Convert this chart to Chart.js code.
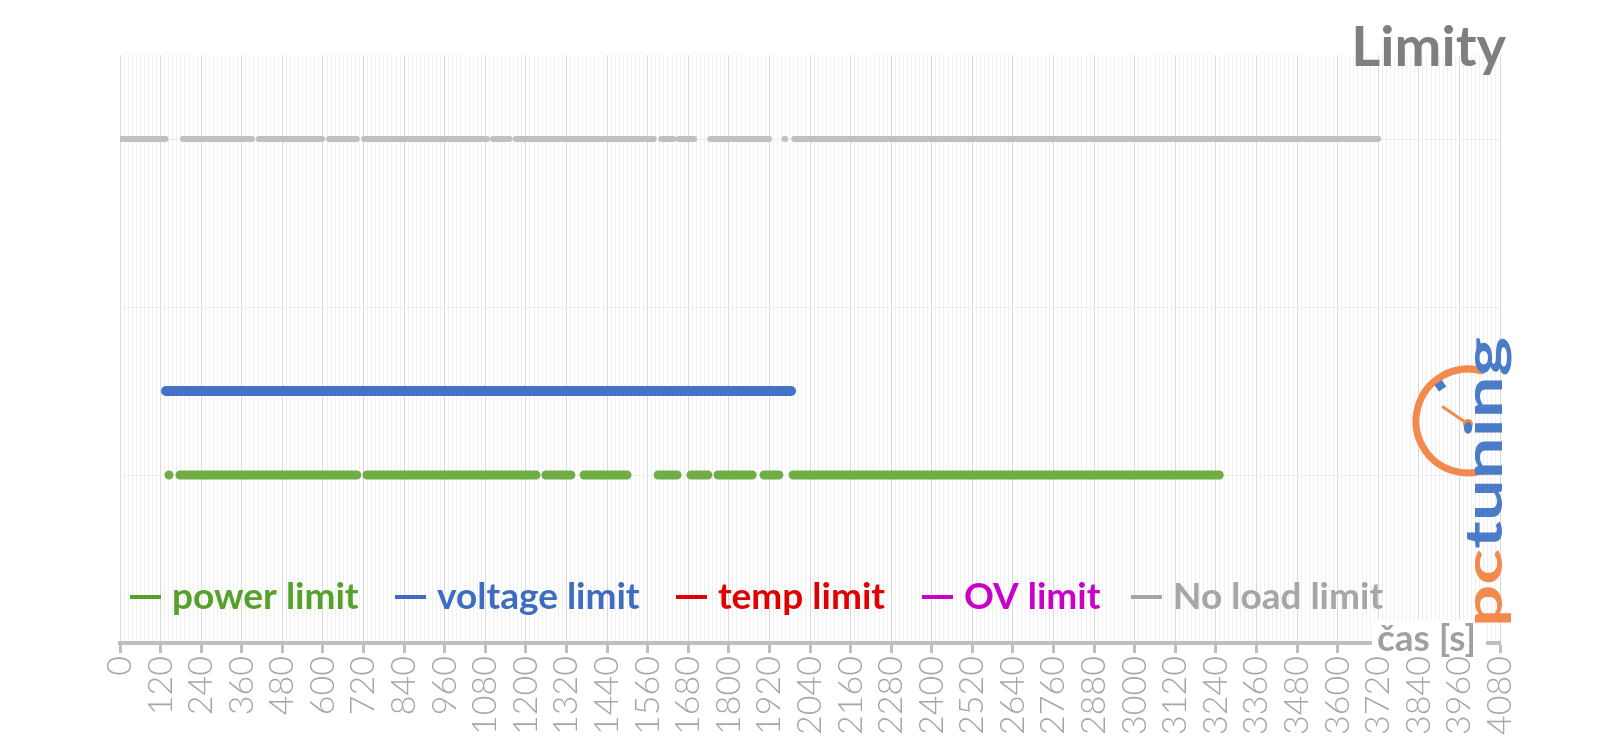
<!DOCTYPE html>
<html>
<head>
<meta charset="utf-8">
<script src="https://cdn.jsdelivr.net/npm/chart.js@4.4.1/dist/chart.umd.min.js"></script>
<style>
    html, body { margin: 0; padding: 0; background: #fff; }
</style>
</head>
<body>
<canvas id="limityChart" width="1600" height="738"></canvas>
<script>
"use strict";

// --- data: time runs [start s, end s] where each limit was active ---
const seriesNames  = ["power limit", "voltage limit", "temp limit", "OV limit", "No load limit"];
const seriesLevels = [1, 1.5, 2, 2.5, 3];

const powerRuns = [
    [145, 147], [177, 700], [730, 1230], [1259, 1333], [1372, 1499],
    [1591, 1647], [1688, 1738], [1768, 1869], [1904, 1948], [1990, 3250]
];
const voltageRuns = [[136, 1984]];
const tempRuns    = [];
const ovRuns      = [];
const noLoadRuns  = [
    [0, 135], [186, 390], [410, 598], [618, 700], [722, 1085], [1103, 1152],
    [1170, 1578], [1600, 1636], [1652, 1698], [1745, 1919],
    [1965, 1967], [1993, 3720]
];

const xMin = 0, xMax = 4080, xMajor = 120, xMinor = 12;

const lineColors   = ["#70ad47", "#4472c4", "#e00000", "#cc00cc", "#c0c0c0"];
const legendColors = ["#55a12a", "#3d6cc0", "#e00000", "#c800c8", "#a6a6a6"];
const lineWidths   = [9, 10, 8, 8, 6];
const legendX      = [130, 395, 676, 922, 1131];

function runsToPoints(runs, level) {
    const pts = [];
    runs.forEach(([a, b]) => {
        pts.push({ x: a, y: level }, { x: b, y: level }, { x: b, y: null });
    });
    return pts;
}

const allRuns = [powerRuns, voltageRuns, tempRuns, ovRuns, noLoadRuns];

const isMajor = (v) => Math.round(v) % xMajor === 0;

// --- decorations: title, axis title, legend, logo ---
const decorPlugin = {
    id: "decor",
    afterDraw(chart) {
        const ctx = chart.ctx;
        ctx.save();

        // title
        ctx.font = "bold 56px Lato, 'Open Sans', sans-serif";
        ctx.fillStyle = "#7f7f7f";
        ctx.textAlign = "right";
        ctx.textBaseline = "alphabetic";
        ctx.fillText("Limity", 1506, 66);

        // axis title with white backing
        ctx.fillStyle = "#ffffff";
        ctx.fillRect(1372, 620, 114, 34);
        ctx.font = "bold 37px Lato, 'Open Sans', sans-serif";
        ctx.fillStyle = "#a0a0a0";
        ctx.textAlign = "left";
        ctx.textBaseline = "middle";
        ctx.fillText("čas [s]", 1377, 639);

        // legend inside plot
        const y = 597;
        ctx.font = "bold 37px Lato, 'Open Sans', sans-serif";
        seriesNames.forEach((name, i) => {
            const x = legendX[i];
            ctx.strokeStyle = legendColors[i];
            ctx.lineWidth = 4;
            ctx.beginPath();
            ctx.moveTo(x, y);
            ctx.lineTo(x + 31, y);
            ctx.stroke();
            ctx.fillStyle = legendColors[i];
            ctx.fillText(name, x + 42, y);
        });

        // logo
        const orange = "#f28a4e", blue = "#4a7cc8";
        ctx.strokeStyle = orange;
        ctx.lineWidth = 7;
        ctx.lineCap = "round";
        ctx.beginPath();
        ctx.arc(1468, 421, 52, -75 * Math.PI / 180, 75 * Math.PI / 180, true);
        ctx.stroke();
        ctx.lineWidth = 3;
        ctx.beginPath();
        ctx.moveTo(1468, 424);
        ctx.lineTo(1443, 407);
        ctx.stroke();
        ctx.fillStyle = orange;
        ctx.beginPath();
        ctx.arc(1468, 424, 5, 0, Math.PI * 2);
        ctx.fill();
        ctx.save();
        ctx.translate(1440, 386);
        ctx.rotate(-0.6);
        ctx.fillStyle = blue;
        ctx.fillRect(-4, -4, 9, 8);
        ctx.restore();

        ctx.translate(1502, 627);
        ctx.rotate(-Math.PI / 2);
        ctx.font = "bold 52px Lato, 'Open Sans', sans-serif";
        ctx.textAlign = "left";
        ctx.textBaseline = "alphabetic";
        const wPc = ctx.measureText("pc").width;
        const wAll = ctx.measureText("pctuning").width;
        ctx.scale(290 / wAll, 1);
        ctx.fillStyle = orange;
        ctx.fillText("pc", 0, 0);
        ctx.fillStyle = blue;
        ctx.fillText("tuning", wPc, 0);

        ctx.restore();
    }
};

const chart = new Chart(document.getElementById("limityChart"), {
    type: "line",
    data: {
        datasets: seriesNames.map((name, i) => ({
            label: name,
            data: runsToPoints(allRuns[i], seriesLevels[i]),
            borderColor: lineColors[i],
            backgroundColor: lineColors[i],
            borderWidth: lineWidths[i],
            borderCapStyle: "round",
            borderJoinStyle: "round",
            pointRadius: 0,
            pointHoverRadius: 0,
            spanGaps: false,
            fill: false,
            tension: 0
        }))
    },
    options: {
        responsive: false,
        devicePixelRatio: 1,
        animation: false,
        events: [],
        layout: { padding: { left: 120, right: 100, top: 55, bottom: 0 } },
        plugins: {
            legend: { display: false },
            tooltip: { enabled: false }
        },
        scales: {
            x: {
                type: "linear",
                min: xMin,
                max: xMax,
                afterFit: (s) => { s.height = 95; },
                ticks: {
                    stepSize: xMinor,
                    autoSkip: false,
                    minRotation: 90,
                    maxRotation: 90,
                    padding: 3,
                    color: "#a6a6a6",
                    font: { family: "Lato, 'Open Sans', sans-serif", size: 34, weight: "300" },
                    callback: (v) => isMajor(v) ? String(Math.round(v)) : ""
                },
                grid: {
                    color: (c) => c.tick && isMajor(c.tick.value) ? "#d9d9d9" : "#f0f0f0",
                    lineWidth: 1,
                    tickLength: 10,
                    tickWidth: 3,
                    tickColor: (c) => c.tick && isMajor(c.tick.value) ? "#bfbfbf" : "rgba(0,0,0,0)"
                },
                border: { color: "#bfbfbf", width: 4 }
            },
            y: {
                min: 0,
                max: 3.5,
                afterFit: (s) => { s.width = 0; },
                ticks: { display: false, stepSize: 1 },
                grid: {
                    drawTicks: false,
                    color: (c) => c.tick && c.tick.value > 0 && c.tick.value < 3.5 ? "#eeeeee" : "rgba(0,0,0,0)"
                },
                border: { display: false }
            }
        }
    },
    plugins: [decorPlugin]
});
</script>
</body>
</html>
